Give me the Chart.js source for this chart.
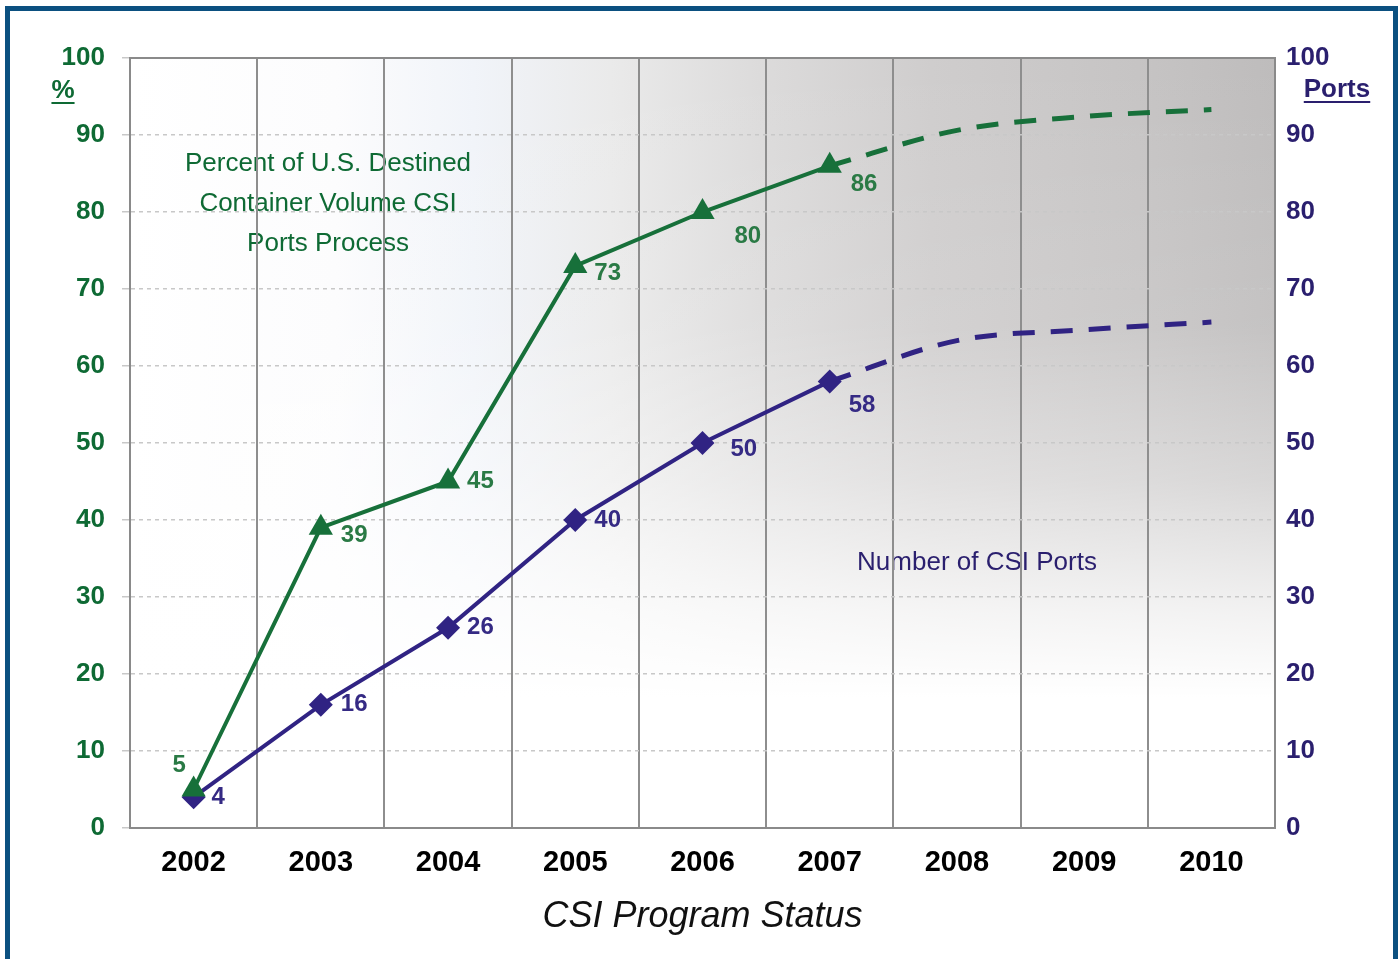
<!DOCTYPE html>
<html>
<head>
<meta charset="utf-8">
<script src="https://cdn.jsdelivr.net/npm/chart.js@4.4.1/dist/chart.umd.min.js"></script>
<style>
  html, body { margin: 0; padding: 0; background: #fff; overflow: hidden; }
  #wrap { position: absolute; left: 0; top: 0; width: 1398px; height: 959px; }
  #frame {
    position: absolute; left: 5px; top: 6px; width: 1393px; height: 1000px;
    box-sizing: border-box; border: 5px solid #0b5080; pointer-events: none;
  }
</style>
</head>
<body>
<div id="wrap"><canvas id="csiChart"></canvas></div>
<div id="frame"></div>
<script>
const years = ["2002", "2003", "2004", "2005", "2006", "2007", "2008", "2009", "2010"];
const percentActual = [5, 39, 45, 73, 80, 86, null, null, null];
const percentProjected = [null, null, null, null, null, 86, 90.6, 92.4, 93.3];
const portsActual = [4, 16, 26, 40, 50, 58, null, null, null];
const portsProjected = [null, null, null, null, null, 58, 63.3, 64.7, 65.7];
const axisTicks = [0, 10, 20, 30, 40, 50, 60, 70, 80, 90, 100];

const GREEN = "#17703a";
const GREEN_TEXT = "#0e6a34";
const PURPLE = "#302383";
const PURPLE_TEXT = "#2a1f6e";
const FONT = "'Liberation Sans', Arial, sans-serif";

// label offsets next to each point [dx, dy]
const labelPos = {
  0: [[-21, -24], [20, 8], [19, 0], [19, 7], [32, 24], [21, 19]],
  2: [[18, 0], [20, 0], [19, 0], [19, 0], [28, 6], [19, 24]],
};

const backgroundPlugin = {
  id: "bg",
  beforeDraw(chart) {
    const { ctx, chartArea: a } = chart;
    ctx.save();
    const h = ctx.createLinearGradient(a.left, 0, a.right, 0);
    h.addColorStop(0, "#ffffff");
    h.addColorStop(0.18, "#fcfcfd");
    h.addColorStop(0.3, "#f1f4f9");
    h.addColorStop(0.42, "#eaeaea");
    h.addColorStop(0.55, "#dcdbdb");
    h.addColorStop(0.7, "#cfcdcd");
    h.addColorStop(0.88, "#c6c4c4");
    h.addColorStop(1, "#bebcbc");
    ctx.fillStyle = h;
    ctx.fillRect(a.left, a.top, a.right - a.left, a.bottom - a.top);
    const v = ctx.createLinearGradient(0, a.top, 0, a.bottom);
    v.addColorStop(0, "rgba(255,255,255,0)");
    v.addColorStop(0.35, "rgba(255,255,255,0.1)");
    v.addColorStop(0.55, "rgba(255,255,255,0.4)");
    v.addColorStop(0.72, "rgba(255,255,255,0.8)");
    v.addColorStop(0.83, "rgba(255,255,255,1)");
    v.addColorStop(1, "rgba(255,255,255,1)");
    ctx.fillStyle = v;
    ctx.fillRect(a.left, a.top, a.right - a.left, a.bottom - a.top);

    // annotations (sit under the grid)
    ctx.textAlign = "center";
    ctx.textBaseline = "middle";
    ctx.font = "26px " + FONT;
    ctx.fillStyle = GREEN_TEXT;
    ctx.fillText("Percent of U.S. Destined", 328, 164);
    ctx.fillText("Container Volume CSI", 328, 204);
    ctx.fillText("Ports Process", 328, 244);
    ctx.fillStyle = PURPLE_TEXT;
    ctx.fillText("Number of CSI Ports", 977, 563);
    ctx.restore();
  },
  afterDraw(chart) {
    const { ctx, chartArea: a } = chart;
    ctx.save();
    // top edge of plot
    ctx.strokeStyle = "#8a8a8a";
    ctx.lineWidth = 2;
    ctx.beginPath();
    ctx.moveTo(a.left, a.top);
    ctx.lineTo(a.right, a.top);
    ctx.stroke();

    // axis unit labels, underlined
    ctx.textAlign = "center";
    ctx.textBaseline = "middle";
    ctx.font = "bold 26px " + FONT;
    const unit = (txt, x, y, color) => {
      ctx.fillStyle = color;
      ctx.strokeStyle = color;
      ctx.fillText(txt, x, y);
      const w = ctx.measureText(txt).width;
      ctx.lineWidth = 2;
      ctx.beginPath();
      ctx.moveTo(x - w / 2, y + 12);
      ctx.lineTo(x + w / 2, y + 12);
      ctx.stroke();
    };
    unit("%", 63, 91, GREEN_TEXT);
    unit("Ports", 1337, 90, PURPLE_TEXT);
    ctx.restore();
  },
};

const valueLabels = {
  id: "valueLabels",
  afterDatasetsDraw(chart) {
    const { ctx } = chart;
    ctx.save();
    ctx.font = "bold 24px " + FONT;
    ctx.textBaseline = "middle";
    ctx.textAlign = "left";
    Object.keys(labelPos).forEach((idx) => {
      const ds = chart.data.datasets[idx];
      const meta = chart.getDatasetMeta(idx);
      ctx.fillStyle = idx == 0 ? "#2a7a45" : "#352a84";
      meta.data.forEach((pt, i) => {
        const val = ds.data[i];
        if (val == null || !labelPos[idx][i]) return;
        const [dx, dy] = labelPos[idx][i];
        ctx.fillText(String(val), pt.x + dx, pt.y + dy);
      });
    });
    ctx.restore();
  },
};

const ctx = document.getElementById("csiChart").getContext("2d");
const csiChart = new Chart(ctx, {
  type: "line",
  data: {
    labels: years,
    datasets: [
      {
        label: "Percent",
        data: percentActual,
        yAxisID: "y",
        borderColor: GREEN,
        backgroundColor: GREEN,
        borderWidth: 4,
        pointStyle: "triangle",
        pointRadius: 14,
        pointBorderWidth: 0,
        tension: 0,
      },
      {
        label: "Percent projected",
        data: percentProjected,
        yAxisID: "y",
        borderColor: GREEN,
        borderWidth: 5,
        borderDash: [22, 16],
        pointRadius: 0,
        cubicInterpolationMode: "monotone",
      },
      {
        label: "Ports",
        data: portsActual,
        yAxisID: "y2",
        borderColor: PURPLE,
        backgroundColor: PURPLE,
        borderWidth: 4,
        pointStyle: "rectRot",
        pointRadius: 12,
        pointBorderWidth: 0,
        tension: 0,
      },
      {
        label: "Ports projected",
        data: portsProjected,
        yAxisID: "y2",
        borderColor: PURPLE,
        borderWidth: 5,
        borderDash: [22, 16],
        pointRadius: 0,
        cubicInterpolationMode: "monotone",
      },
    ],
  },
  options: {
    responsive: true,
    maintainAspectRatio: false,
    animation: false,
    layout: { padding: { top: 58, left: 0, right: 0, bottom: 0 } },
    plugins: {
      legend: { display: false },
      tooltip: { enabled: false },
    },
    scales: {
      x: {
        offset: true,
        afterFit(scale) { scale.height = 131; },
        grid: { offset: true, color: "#8e8e8e", lineWidth: 2, drawTicks: false },
        border: { display: true, color: "#8a8a8a", width: 2 },
        ticks: {
          color: "#000",
          padding: 18,
          font: { family: FONT, size: 29, weight: "bold" },
        },
        title: {
          display: true,
          text: "CSI Program Status",
          color: "#111",
          padding: { top: 0, bottom: 20 },
          font: { family: FONT, size: 36, style: "italic" },
        },
      },
      y: {
        position: "left",
        min: 0,
        max: 100,
        afterFit(scale) { scale.width = 130; },
        afterBuildTicks(scale) { scale.ticks = axisTicks.map((v) => ({ value: v })); },
        grid: { color: "#c8c8c8", lineWidth: 1.5, tickLength: 8, drawTicks: true },
        border: { display: true, color: "#8a8a8a", width: 2, dash: [] },
        ticks: {
          color: GREEN_TEXT,
          padding: 17,
          font: { family: FONT, size: 26, weight: "bold" },
        },
      },
      y2: {
        position: "right",
        min: 0,
        max: 100,
        afterFit(scale) { scale.width = 123; },
        afterBuildTicks(scale) { scale.ticks = axisTicks.map((v) => ({ value: v })); },
        grid: { display: false, drawTicks: false },
        border: { display: true, color: "#8a8a8a", width: 2 },
        ticks: {
          color: PURPLE_TEXT,
          padding: 11,
          font: { family: FONT, size: 26, weight: "bold" },
        },
      },
    },
  },
  plugins: [backgroundPlugin, valueLabels],
});

// dotted horizontal grid
csiChart.options.scales.y.border.dash = [4, 4];
csiChart.update();
</script>
</body>
</html>
